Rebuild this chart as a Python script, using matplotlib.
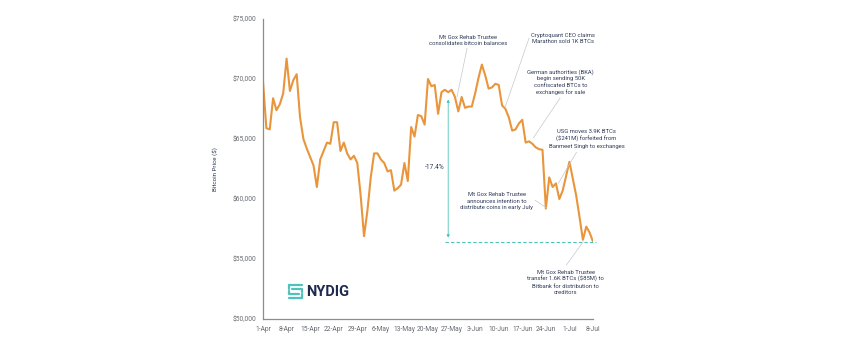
import numpy as np
import pandas as pd
import matplotlib
matplotlib.use('Agg')
import matplotlib.pyplot as plt

plt.rcParams['font.family'] = ['Roboto', 'DejaVu Sans']

# daily BTC close, 1-Apr .. 8-Jul
dates = pd.date_range('2024-04-01', '2024-07-08', freq='D')
prices = [
    69800, 65900, 65800, 68400, 67400, 67900, 68800, 71700, 69000, 69900,
    70400, 66800, 65000, 64200, 63500, 62800, 61000, 63300, 64000, 64700,
    64600, 66400, 66400, 64000, 64700, 63800, 63300, 63600, 63000, 60300,
    56900, 59000, 61800, 63800, 63800, 63300, 63000, 62300, 62400, 60700,
    60900, 61200, 63000, 61500, 66000, 65200, 67000, 66900, 66200, 70000,
    69400, 69500, 67100, 68900, 69100, 68900, 69100, 68500, 67300, 68500,
    67600, 67700, 67700, 68800, 70100, 71200, 70300, 69200, 69300, 69600,
    69500, 67800, 67500, 66800, 65700, 65800, 66300, 66600, 64700, 64800,
    64600, 64300, 64150, 64100, 59200, 61800, 61000, 61300, 60000, 60700,
    61900, 63100, 61700, 60300, 58500, 56600, 57700, 57200, 56450,
]
tick_labels = ['1-Apr', '8-Apr', '15-Apr', '22-Apr', '29-Apr', '6-May', '13-May',
               '20-May', '27-May', '3-Jun', '10-Jun', '17-Jun', '24-Jun', '1-Jul', '8-Jul']
y_ticks = [50000, 55000, 60000, 65000, 70000, 75000]

drawdown_high = 68300
drawdown_low = 56420
drawdown_day = 55

# (text, text position, leader start, leader end) in (day, price)
events = [
    ('Mt Gox Rehab Trustee\nconsolidates bitcoin balances', (60.9, 73200), (60.6, 72550), (57.6, 68500)),
    ('Cryptoquant CEO claims\nMarathon sold 1K BTCs', (89.0, 73350), (79.0, 73400), (71.9, 67650)),
    ('German authorities (BKA)\nbegin sending 50K\nconfiscated BTCs to\nexchanges for sale', (88.4, 69750), (88.2, 68400), (80.3, 65100)),
    ('USG moves 3.9K BTCs\n($241M) forfeited from\nBanmeet Singh to exchanges', (96.1, 65000), (93.1, 63900), (87.7, 61300)),
    ('Mt Gox Rehab Trustee\nannounces intention to\ndistribute coins in early July', (69.4, 59830), (80.8, 59900), (84.2, 59250)),
    ('Mt Gox Rehab Trustee\ntransfer 1.6K BTCs ($85M) to\nBitbank for distribution to\ncreditors', (89.9, 53050), (90.1, 54500), (95.1, 56440)),
]

navy = '#2e3a58'
orange = '#e9953b'
teal = '#4fc3b9'
grey = '#8a8d93'

days = np.arange(len(dates))

fig = plt.figure(figsize=(8.57, 3.48), dpi=100)
ax = fig.add_axes([263 / 857, 1 - 319 / 348, 330 / 857, 300 / 348])
ax.plot(days, prices, color=orange, lw=1.5, solid_joinstyle='round')

ax.set_xlim(0, 98)
ax.set_ylim(50000, 75000)
ax.set_xticks(np.arange(0, 99, 7))
ax.set_xticklabels(tick_labels)
ax.set_yticks(y_ticks)
ax.set_yticklabels(['${:,}'.format(v) for v in y_ticks])
ax.tick_params(length=0, labelsize=4.8, colors='#666a70', pad=5)
ax.set_ylabel('Bitcoin Price ($)', fontsize=4.5, color=navy, labelpad=10)
for s in ['top', 'right']:
    ax.spines[s].set_visible(False)
for s in ['left', 'bottom']:
    ax.spines[s].set_color(grey)
    ax.spines[s].set_linewidth(0.9)

# drawdown marker
ax.plot([54.1, 98.8], [drawdown_low, drawdown_low], color=teal, lw=0.8,
        ls=(0, (3, 2)), clip_on=False)
ax.annotate('', xy=(drawdown_day, drawdown_high), xytext=(drawdown_day, drawdown_low + 350),
            arrowprops=dict(arrowstyle='<|-|>', color=teal, lw=0.6, mutation_scale=4,
                            shrinkA=0, shrinkB=0))
pct = (drawdown_low - drawdown_high) / drawdown_high * 100
ax.text(drawdown_day - 1.0, 62600, '{:.1f}%'.format(pct), ha='right', va='center',
        fontsize=4.8, color=navy)

for label, pos, p0, p1 in events:
    ax.plot([p0[0], p1[0]], [p0[1], p1[1]], color='#c3c7ce', lw=0.5, clip_on=False)
    ax.text(pos[0], pos[1], label, ha='center', va='center', fontsize=4.2,
            color=navy, linespacing=1.35, clip_on=False)

# logo
icon = fig.add_axes([287 / 857, 1 - 300 / 348, 17 / 857, 17 / 348])
icon.set_xlim(0, 1)
icon.set_ylim(0, 1)
icon.axis('off')
kw = dict(color=teal, lw=1.6, solid_capstyle='round')
icon.plot([0.1, 0.9], [0.9, 0.9], **kw)
icon.plot([0.1, 0.9], [0.1, 0.1], **kw)
icon.plot([0.3, 0.9, 0.9], [0.62, 0.62, 0.45], **kw)
icon.plot([0.1, 0.1, 0.7], [0.55, 0.38, 0.38], **kw)
icon.plot([0.1, 0.1], [0.9, 0.62], **kw)
icon.plot([0.9, 0.9], [0.38, 0.1], **kw)
fig.text(306 / 857, 1 - 292 / 348, 'NYDIG', fontsize=10.5, fontweight='bold',
         color='#1f2a50', ha='left', va='center')

fig.savefig('out.png', dpi=100, facecolor='white')
